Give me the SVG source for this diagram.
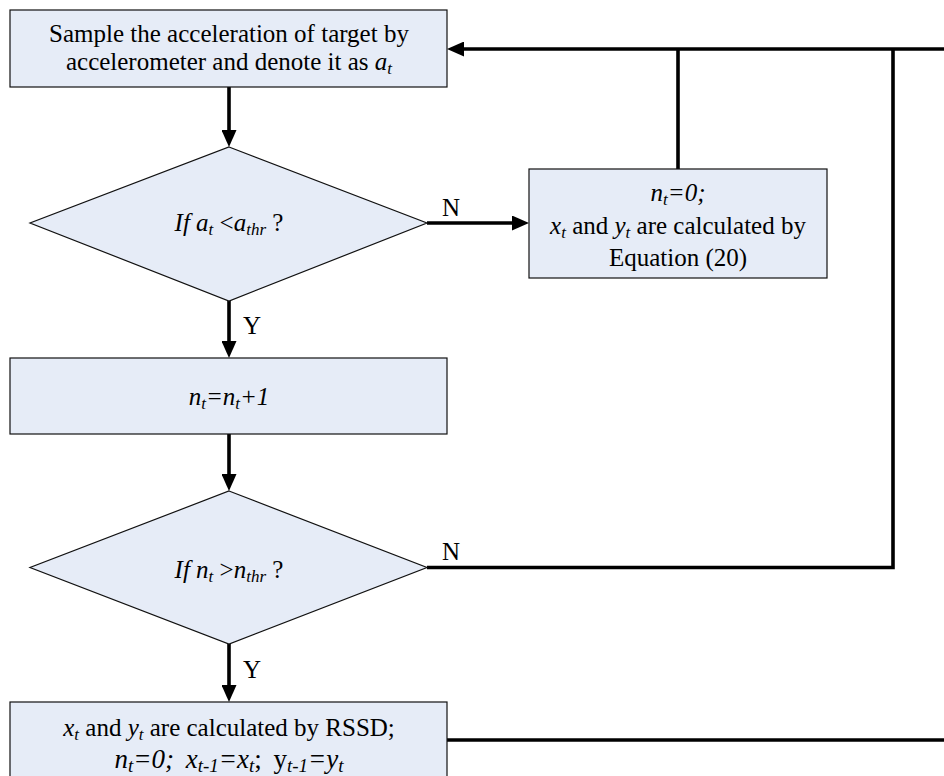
<svg xmlns="http://www.w3.org/2000/svg" width="944" height="776" viewBox="0 0 944 776">
  <style>
    .box { fill: #e6ecf7; stroke: #111; stroke-width: 1.2; }
    .wire { fill: none; stroke: #000; stroke-width: 3.6; }
    text { font-family: 'Liberation Serif', 'Times New Roman', Tinos, 'DejaVu Serif', serif; font-size: 25px; fill: #000; }
    .t { text-anchor: middle; }
    .i { font-style: italic; }
    .s { font-size: 17px; font-style: italic; }
    .wide { font-size: 27px; word-spacing: 5px; }
    .wide .s { font-size: 19px; }
  </style>
  <defs>
    <marker id="arrow" markerUnits="userSpaceOnUse" markerWidth="17" markerHeight="15" refX="9" refY="7.5" orient="auto">
      <path d="M0,0 L17,7.5 L0,15 z" fill="#000"/>
    </marker>
  </defs>

  <!-- connectors -->
  <g id="connectors">
    <path class="wire" d="M229,87 V139" marker-end="url(#arrow)"/>
    <path class="wire" d="M427,223 H521" marker-end="url(#arrow)"/>
    <path class="wire" d="M678,169 V49"/>
    <path class="wire" d="M944,49 H455" marker-end="url(#arrow)"/>
    <path class="wire" d="M427,567.5 H893 V49"/>
    <path class="wire" d="M229,301 V350" marker-end="url(#arrow)"/>
    <path class="wire" d="M229,434 V483" marker-end="url(#arrow)"/>
    <path class="wire" d="M229,644 V694" marker-end="url(#arrow)"/>
    <path class="wire" d="M447,740 H944"/>
    <text x="442" y="216">N</text>
    <text x="243" y="334">Y</text>
    <text x="442" y="560">N</text>
    <text x="243" y="678">Y</text>
  </g>

  <!-- sample acceleration -->
  <g id="sample">
    <rect class="box" x="10" y="10" width="437" height="77"/>
    <text class="t" x="229" y="42">Sample the acceleration of target by</text>
    <text class="t" x="229" y="70">accelerometer and denote it as <tspan class="i">a</tspan><tspan class="s" dy="4">t</tspan></text>
  </g>

  <!-- threshold test on acceleration -->
  <g id="acc-test">
    <polygon class="box" points="229,147 427,223 229,301 30,223"/>
    <text class="t" x="229" y="231"><tspan class="i">If a</tspan><tspan class="s" dy="4">t</tspan><tspan dy="-4"> &lt;</tspan><tspan class="i">a</tspan><tspan class="s" dy="4">thr</tspan><tspan dy="-4"> ?</tspan></text>
  </g>

  <!-- equation (20) branch -->
  <g id="equation">
    <rect class="box" x="529" y="169" width="298" height="109"/>
    <text class="t" x="678" y="201"><tspan class="i">n</tspan><tspan class="s" dy="4">t</tspan><tspan class="i" dy="-4">=0;</tspan></text>
    <text class="t" x="678" y="234"><tspan class="i">x</tspan><tspan class="s" dy="4">t</tspan><tspan dy="-4"> and </tspan><tspan class="i">y</tspan><tspan class="s" dy="4">t</tspan><tspan dy="-4"> are calculated by</tspan></text>
    <text class="t" x="678" y="266">Equation (20)</text>
  </g>

  <!-- counter increment -->
  <g id="increment">
    <rect class="box" x="10" y="358" width="437" height="76"/>
    <text class="t" x="229" y="405"><tspan class="i">n</tspan><tspan class="s" dy="4">t</tspan><tspan class="i" dy="-4">=n</tspan><tspan class="s" dy="4">t</tspan><tspan class="i" dy="-4">+1</tspan></text>
  </g>

  <!-- threshold test on counter -->
  <g id="count-test">
    <polygon class="box" points="229,491 427,567.5 229,644 30,567.5"/>
    <text class="t" x="229" y="578"><tspan class="i">If n</tspan><tspan class="s" dy="4">t</tspan><tspan dy="-4"> &gt;</tspan><tspan class="i">n</tspan><tspan class="s" dy="4">thr</tspan><tspan dy="-4"> ?</tspan></text>
  </g>

  <!-- RSSD update -->
  <g id="rssd">
    <rect class="box" x="10" y="702" width="437" height="80"/>
    <text class="t" x="229" y="736"><tspan class="i">x</tspan><tspan class="s" dy="4">t</tspan><tspan dy="-4"> and </tspan><tspan class="i">y</tspan><tspan class="s" dy="4">t</tspan><tspan dy="-4"> are calculated by RSSD;</tspan></text>
    <text class="t wide" x="229" y="768"><tspan class="i">n</tspan><tspan class="s" dy="4">t</tspan><tspan class="i" dy="-4">=0; x</tspan><tspan class="s" dy="4">t-1</tspan><tspan class="i" dy="-4">=x</tspan><tspan class="s" dy="4">t</tspan><tspan dy="-4">; y</tspan><tspan class="s" dy="4">t-1</tspan><tspan class="i" dy="-4">=y</tspan><tspan class="s" dy="4">t</tspan></text>
  </g>
</svg>
